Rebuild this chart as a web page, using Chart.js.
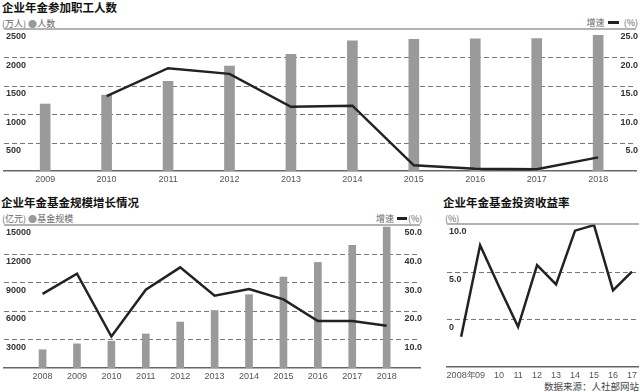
<!DOCTYPE html>
<html>
<head>
<meta charset="utf-8">
<script src="https://cdn.jsdelivr.net/npm/chart.js@4/dist/chart.umd.min.js"></script>
<style>
  html, body { margin: 0; padding: 0; background: #fff; }
  body { width: 640px; height: 392px; position: relative; overflow: hidden; font-family: "Noto Sans CJK SC", "Liberation Sans", sans-serif; }
  canvas { position: absolute; }
  .t { position: absolute; white-space: nowrap; }
  .title { font-size: 11.5px; font-weight: bold; color: #111; line-height: 14px; }
  .sub { font-size: 9px; color: #666; line-height: 12px; }
  .dot { color: #999; }
  .dash { display: inline-block; width: 11px; height: 2.5px; background: #222; vertical-align: middle; margin: 0 3px 2px 3px; }
</style>
</head>
<body>
<div class="t title" style="left:2px;top:0px;">企业年金参加职工人数</div>
<div class="t sub" style="left:2px;top:18px;">(万人) <span class="dot">●</span>人数</div>
<div class="t sub" style="right:2px;top:17px;">增速<span class="dash"></span> (%)</div>

<div class="t title" style="left:1px;top:195px;">企业年金基金规模增长情况</div>
<div class="t sub" style="left:2px;top:213px;">(亿元) <span class="dot">●</span>基金规模</div>
<div class="t sub" style="left:376px;top:213px;">增速<span class="dash" style="margin-right:1px;width:10px"></span>(%)</div>

<div class="t title" style="left:443px;top:195px;">企业年金基金投资收益率</div>
<div class="t sub" style="left:445px;top:213px;">(%)</div>
<div class="t sub" style="right:1px;top:380px;font-size:9.5px;color:#444;">数据来源：人社部网站</div>

<canvas id="c1" width="640" height="190" style="left:0;top:0;"></canvas>
<canvas id="c2" width="424" height="202" style="left:0;top:190px;"></canvas>
<canvas id="c3" width="197" height="202" style="left:443px;top:190px;"></canvas>

<script>
// ---- Data ----
const years1 = [2009, 2010, 2011, 2012, 2013, 2014, 2015, 2016, 2017, 2018];
const members = [1179, 1335, 1577, 1847, 2056, 2293, 2316, 2325, 2331, 2388];
const memberGrowth = [null, 13.2, 18.1, 17.1, 11.3, 11.5, 1.0, 0.4, 0.3, 2.4];

const years2 = [2008, 2009, 2010, 2011, 2012, 2013, 2014, 2015, 2016, 2017, 2018];
const fundSize = [1911, 2533, 2809, 3570, 4821, 6035, 7689, 9526, 11075, 12880, 14770];
const fundGrowth = [25.9, 33.0, 11.0, 27.4, 35.2, 25.3, 27.6, 24.0, 16.4, 16.4, 14.8];

const years3 = [2008, 2009, 2010, 2011, 2012, 2013, 2014, 2015, 2016, 2017];
const xLabels3 = ['2008年', '09', '10', '11', '12', '13', '14', '15', '16', '17'];
const returns = [-1.83, 7.78, 3.41, -0.78, 5.68, 3.67, 9.30, 9.88, 3.03, 5.00];

// ---- Shared styling ----
const NUM_FONT = { family: "'Liberation Sans', Arial, sans-serif", size: 9 };
const LINE_COLOR = '#222';
const BAR_COLOR = '#9a9a9a';
const GRID_COLOR = '#777';

// solid rule at the top of the value axis, dashed rules at inner ticks
const rules = {
  id: 'rules',
  beforeDatasetsDraw(chart) {
    const s = chart.scales.y;
    const a = chart.chartArea;
    const ctx = chart.ctx;
    ctx.save();
    ctx.strokeStyle = GRID_COLOR;
    ctx.lineWidth = 1;
    ctx.setLineDash([5, 3]);
    s.ticks.forEach(t => {
      if (t.value === s.min || t.value === s.max) return;
      const y = Math.round(s.getPixelForValue(t.value)) + 0.5;
      ctx.beginPath();
      ctx.moveTo(a.left, y);
      ctx.lineTo(a.right, y);
      ctx.stroke();
    });
    ctx.restore();
  },
  afterDraw(chart) {
    const s = chart.scales.y;
    const y = s.getPixelForValue(s.max);
    const a = chart.chartArea;
    const ctx = chart.ctx;
    ctx.save();
    ctx.strokeStyle = '#999';
    ctx.lineWidth = 1.5;
    ctx.beginPath();
    ctx.moveTo(a.left, y);
    ctx.lineTo(a.right, y);
    ctx.stroke();
    ctx.restore();
  }
};

function pts(xs, ys) { return xs.map((x, i) => ({ x: x, y: ys[i] })); }

function xScale(min, max, years, labels, h) {
  return {
    type: 'linear', position: 'bottom', min: min, max: max, offset: false,
    afterBuildTicks: s => { s.ticks = years.map(v => ({ value: v })); },
    afterFit: s => { s.height = h; },
    grid: { display: false, drawTicks: false, offset: false },
    border: { display: true, color: '#666', width: 1.5 },
    ticks: {
      font: NUM_FONT, color: '#555', padding: 3, maxRotation: 0, autoSkip: false,
      callback: (v, i) => labels ? labels[i] : String(v)
    }
  };
}

function yScale(pos, min, max, step, fmt, hide) {
  return {
    type: 'linear', position: pos, min: min, max: max,
    grid: { display: false, drawTicks: false },
    border: { display: false },
    afterBuildTicks: s => {
      const t = [];
      for (let v = min; v <= max + 1e-9; v += step) t.push({ value: v });
      s.ticks = t;
    },
    ticks: {
      mirror: true, padding: 2, labelOffset: 8,
      font: Object.assign({}, NUM_FONT, { weight: 'bold' }), color: '#333',
      callback: v => (v === hide ? null : fmt(v))
    }
  };
}

const commonOpts = {
  responsive: false, animation: false,
  plugins: { legend: { display: false }, tooltip: { enabled: false } },
  elements: { point: { radius: 0 } }
};

// ---- Chart 1 ----
new Chart(document.getElementById('c1'), {
  type: 'bar',
  data: {
    datasets: [
      { type: 'line', data: pts(years1, memberGrowth), yAxisID: 'y2', borderColor: LINE_COLOR, borderWidth: 2.5, fill: false, tension: 0 },
      { type: 'bar', data: pts(years1, members), yAxisID: 'y', backgroundColor: BAR_COLOR, barThickness: 10 }
    ]
  },
  options: Object.assign({}, commonOpts, {
    layout: { padding: { top: 29, left: 0, right: 0, bottom: 0 } },
    scales: {
      x: xScale(2008.33, 2018.616, years1, null, 19),
      y: yScale('left', 0, 2500, 500, v => String(v), 0),
      y2: yScale('right', 0, 25, 5, v => v.toFixed(1), 0)
    }
  }),
  plugins: [rules]
});

// ---- Chart 2 ----
new Chart(document.getElementById('c2'), {
  type: 'bar',
  data: {
    datasets: [
      { type: 'line', data: pts(years2, fundGrowth), yAxisID: 'y2', borderColor: LINE_COLOR, borderWidth: 2.5, fill: false, tension: 0 },
      { type: 'bar', data: pts(years2, fundSize), yAxisID: 'y', backgroundColor: BAR_COLOR, barThickness: 7 }
    ]
  },
  options: Object.assign({}, commonOpts, {
    layout: { padding: { top: 35, left: 0, right: 0, bottom: 0 } },
    scales: {
      x: xScale(2006.879, 2018.969, years2, null, 24),
      y: yScale('left', 0, 15000, 3000, v => String(v), 0),
      y2: yScale('right', 0, 50, 10, v => v.toFixed(1), 0)
    }
  }),
  plugins: [rules]
});

// ---- Chart 3 ----
new Chart(document.getElementById('c3'), {
  type: 'line',
  data: {
    datasets: [
      { data: pts(years3, returns), yAxisID: 'y', borderColor: LINE_COLOR, borderWidth: 2.5, fill: false, tension: 0 }
    ]
  },
  options: Object.assign({}, commonOpts, {
    layout: { padding: { top: 34, left: 0, right: 0, bottom: 0 } },
    scales: {
      x: xScale(2007.256, 2017.36, years3, xLabels3, 25),
      y: yScale('left', -5, 10, 5, v => (v === 0 ? '0' : v.toFixed(1)), -5)
    }
  }),
  plugins: [rules]
});
</script>
</body>
</html>
